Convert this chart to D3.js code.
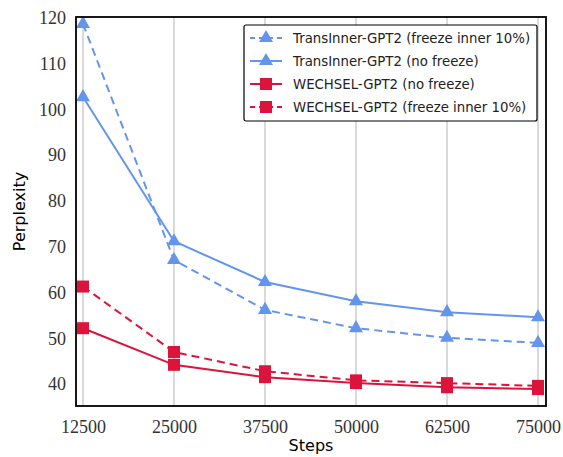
<!DOCTYPE html>
<html>
<head>
<meta charset="utf-8">
<script src="https://cdn.jsdelivr.net/npm/d3@7"></script>
<style>
  body { margin: 0; background: #fff; }
  svg { display: block; }
</style>
</head>
<body>
<svg id="chart" width="563" height="457"></svg>
<script>
// Data
const steps = [12500, 25000, 37500, 50000, 62500, 75000]
const transFreeze = [118.7, 67.1, 56.2, 52.2, 50.1, 49.0]
const transNoFreeze = [102.7, 71.2, 62.3, 58.1, 55.7, 54.6]
const wechselNoFreeze = [52.2, 44.2, 41.5, 40.2, 39.3, 38.9]
const wechselFreeze = [61.3, 47.0, 42.8, 40.8, 40.2, 39.6]
const yTicks = [40, 50, 60, 70, 80, 90, 100, 110, 120]

const series = [
  { name: 'TransInner-GPT2 (freeze inner 10%)', values: transFreeze, color: '#6495ed', dash: '8,5', marker: 'triangle' },
  { name: 'TransInner-GPT2 (no freeze)', values: transNoFreeze, color: '#6495ed', dash: null, marker: 'triangle' },
  { name: 'WECHSEL-GPT2 (no freeze)', values: wechselNoFreeze, color: '#dc143c', dash: null, marker: 'square' },
  { name: 'WECHSEL-GPT2 (freeze inner 10%)', values: wechselFreeze, color: '#dc143c', dash: '8,5', marker: 'square' }
]

const svg = d3.select('#chart')
const margins = { left: 76, right: 17, top: 17, bottom: 51 }
const width = 563 - margins.left - margins.right
const height = 457 - margins.top - margins.bottom

const xScale = d3.scaleLinear().domain([11540, 76100]).range([0, width])
const yScale = d3.scaleLinear().domain([35.2, 120.2]).range([height, 0])

const g = svg.append('g').attr('transform', `translate(${margins.left},${margins.top})`)

// vertical grid
g.selectAll('.grid').data(steps).enter().append('line')
  .attr('class', 'grid')
  .attr('x1', d => xScale(d)).attr('x2', d => xScale(d))
  .attr('y1', 0).attr('y2', height)
  .attr('stroke', '#d0d0d0').attr('stroke-width', 1.6)

// axes (labels only, no tick marks)
const xAxis = g.append('g').attr('transform', `translate(0,${height})`)
  .call(d3.axisBottom(xScale).tickValues(steps).tickSize(0).tickPadding(14).tickFormat(d3.format('d')))
const yAxis = g.append('g')
  .call(d3.axisLeft(yScale).tickValues(yTicks).tickSize(0).tickPadding(10))
;[xAxis, yAxis].forEach(a => {
  a.select('.domain').remove()
  a.selectAll('text')
    .attr('font-family', '"Liberation Serif", "DejaVu Serif", serif')
    .attr('font-size', 18).attr('fill', '#333')
})

// lines + markers
const line = d3.line().x((d, i) => xScale(steps[i])).y(d => yScale(d))
const triangle = d3.symbol().type(d3.symbolTriangle).size(85)

series.forEach(s => {
  g.append('path').datum(s.values)
    .attr('d', line)
    .attr('fill', 'none')
    .attr('stroke', s.color)
    .attr('stroke-width', 2)
    .attr('stroke-dasharray', s.dash)
  const marks = g.selectAll(null).data(s.values).enter()
  if (s.marker === 'triangle') {
    marks.append('path')
      .attr('d', triangle)
      .attr('transform', (d, i) => `translate(${xScale(steps[i])},${yScale(d)})`)
      .attr('fill', s.color)
  } else {
    marks.append('rect')
      .attr('x', (d, i) => xScale(steps[i]) - 6)
      .attr('y', d => yScale(d) - 6)
      .attr('width', 12).attr('height', 12)
      .attr('fill', s.color)
  }
})

// frame
g.append('rect').attr('width', width).attr('height', height)
  .attr('fill', 'none').attr('stroke', '#000').attr('stroke-width', 1.8)

// axis titles
svg.append('text')
  .attr('x', margins.left + width / 2).attr('y', 451)
  .attr('text-anchor', 'middle')
  .attr('font-family', '"DejaVu Sans", sans-serif').attr('font-size', 16)
  .text('Steps')
svg.append('text')
  .attr('transform', `translate(25,${margins.top + height / 2}) rotate(-90)`)
  .attr('text-anchor', 'middle')
  .attr('font-family', '"DejaVu Sans", sans-serif').attr('font-size', 16)
  .text('Perplexity')

// legend
const legend = svg.append('g').attr('transform', 'translate(244,25)')
legend.append('rect')
  .attr('width', 293).attr('height', 96).attr('rx', 2)
  .attr('fill', '#fff').attr('stroke', '#000').attr('stroke-width', 1.2)
const rows = legend.selectAll('.row').data(series).enter().append('g')
  .attr('transform', (d, i) => `translate(0,${13 + i * 23})`)
rows.append('line')
  .attr('x1', 6).attr('x2', 38)
  .attr('stroke', d => d.color).attr('stroke-width', 2)
  .attr('stroke-dasharray', d => d.dash ? '5,4' : null)
rows.each(function (d) {
  const r = d3.select(this)
  if (d.marker === 'triangle') {
    r.append('path').attr('d', triangle).attr('transform', 'translate(22,0)').attr('fill', d.color)
  } else {
    r.append('rect').attr('x', 16).attr('y', -6).attr('width', 12).attr('height', 12).attr('fill', d.color)
  }
})
rows.append('text')
  .attr('x', 49).attr('y', 0).attr('dy', '0.35em')
  .attr('font-family', '"DejaVu Sans", sans-serif').attr('font-size', 13.3)
  .attr('fill', '#222')
  .text(d => d.name)
</script>
</body>
</html>
